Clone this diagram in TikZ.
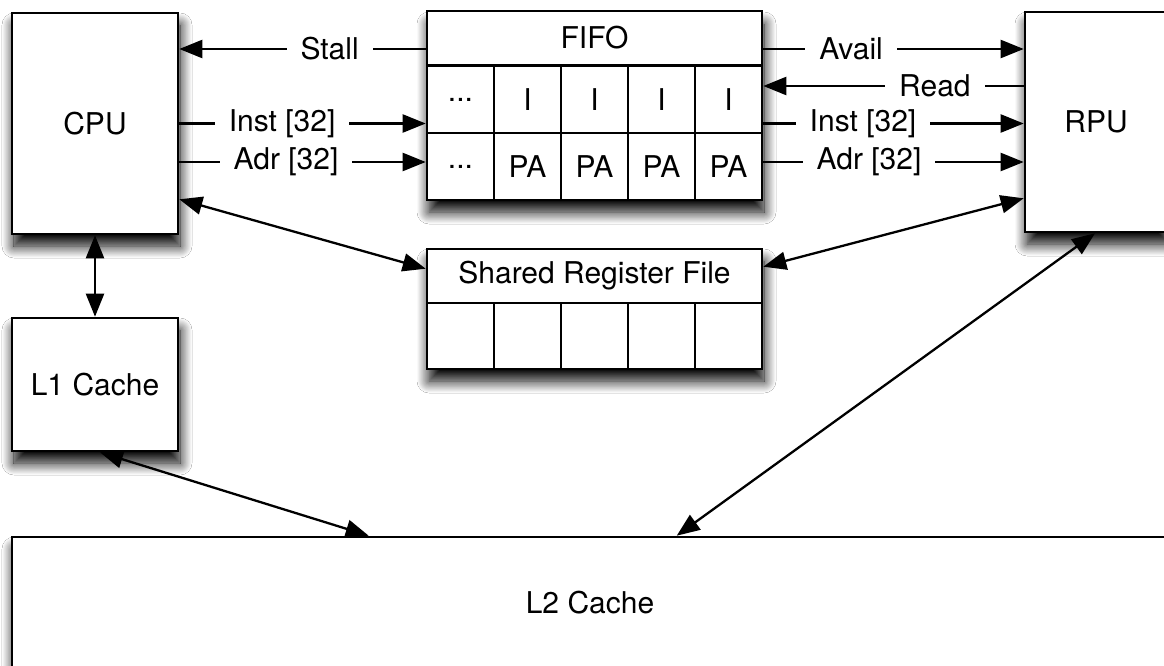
\documentclass[tikz,border=0pt]{standalone}
\usepackage{fontspec}
\setmainfont{TeX Gyre Heros}
\usetikzlibrary{arrows.meta,shadows.blur}
\begin{document}
\begin{tikzpicture}[x=1pt,y=-1pt,
  font=\fontsize{30}{34}\selectfont,
  box/.style={draw=black, line width=2.6pt, fill=white, inner sep=0pt},
  shade/.style={blur shadow={shadow xshift=2pt, shadow yshift=-12pt,
      shadow blur radius=12pt, shadow blur steps=14, shadow opacity=100}},
  cell/.style={draw=black, line width=2.4pt, fill=white, inner sep=0pt,
      minimum width=67pt, minimum height=67pt},
  link/.style={line width=2.3pt, -{Triangle[length=23pt,width=18pt]}},
  both/.style={line width=2.3pt,
      {Triangle[length=23pt,width=18pt]}-{Triangle[length=23pt,width=18pt]}},
  lbl/.style={fill=white, inner xsep=14pt, inner ysep=1pt}
]
\fill[white] (0,0) rectangle (1164,666);
\clip (0,0) rectangle (1164,666);

% processors and caches
\node[box,shade,minimum width=166pt,minimum height=221pt] (cpu) at (95,123.5) {CPU};
\node[box,shade,minimum width=166pt,minimum height=133pt] (l1) at (95,384.5) {L1 Cache};
\node[box,shade,minimum width=142pt,minimum height=220pt] (rpu) at (1096,122) {RPU};
\node[box,shade,minimum width=1156pt,minimum height=132pt] (l2) at (590,603) {L2 Cache};

% FIFO: header plus two rows of five cells
\node[box,shade,minimum width=335pt,minimum height=188pt] (fifo) at (594.5,106) {};
\node[cell,minimum width=335pt,minimum height=54pt] (fifohead) at (594.5,38) {FIFO};
\node[cell] (fi0) at (460.5,99.5) {...};
\node[cell] (fp0) at (460.5,166.5) {...};
\foreach \i/\x in {1/527.5,2/594.5,3/661.5,4/728.5}{
  \node[cell] (fi\i) at (\x,99.5) {I};
  \node[cell] (fp\i) at (\x,166.5) {PA};
}

% shared register file: header plus one row of five cells
\node[box,shade,minimum width=335pt,minimum height=120pt] (srf) at (594.5,309) {};
\node[cell,minimum width=335pt,minimum height=54pt] (srfhead) at (594.5,276) {Shared Register File};
\foreach \i/\x in {0/460.5,1/527.5,2/594.5,3/661.5,4/728.5}{
  \node[cell,minimum height=66pt] (sr\i) at (\x,336) {};
}

% signal rows
\coordinate (yStall) at (0,49);
\coordinate (yRead) at (0,86);
\coordinate (yInst) at (0,123.5);
\coordinate (yAdr) at (0,162);

\draw[link] (fifo.west |- yStall) -- node[lbl,pos=0.39]{Stall} (cpu.east |- yStall);
\draw[link] (cpu.east |- yInst) -- node[lbl,pos=0.417]{Inst [32]} (fifo.west |- yInst);
\draw[link] (cpu.east |- yAdr) -- node[lbl,pos=0.433]{Adr [32]} (fifo.west |- yAdr);

\draw[link] (fifo.east |- yStall) -- node[lbl,pos=0.337]{Avail} (rpu.west |- yStall);
\draw[link] (rpu.west |- yRead) -- node[lbl,pos=0.341]{Read} (fifo.east |- yRead);
\draw[link] (fifo.east |- yInst) -- node[lbl,pos=0.383]{Inst [32]} (rpu.west |- yInst);
\draw[link] (fifo.east |- yAdr) -- node[lbl,pos=0.406]{Adr [32]} (rpu.west |- yAdr);

% bidirectional links
\draw[both] ([yshift=36pt]cpu.south east) -- ([yshift=-21pt]srf.north west);
\draw[both] ([yshift=35pt]rpu.south west) -- ([yshift=-19pt]srf.north east);
\draw[both] (cpu.south) -- (l1.north);
\draw[both] ([xshift=5pt]l1.south) -- ([xshift=358pt]l2.north west);
\draw[both] ([xshift=-1pt]rpu.south) -- ([xshift=666pt]l2.north west);
\end{tikzpicture}
\end{document}
